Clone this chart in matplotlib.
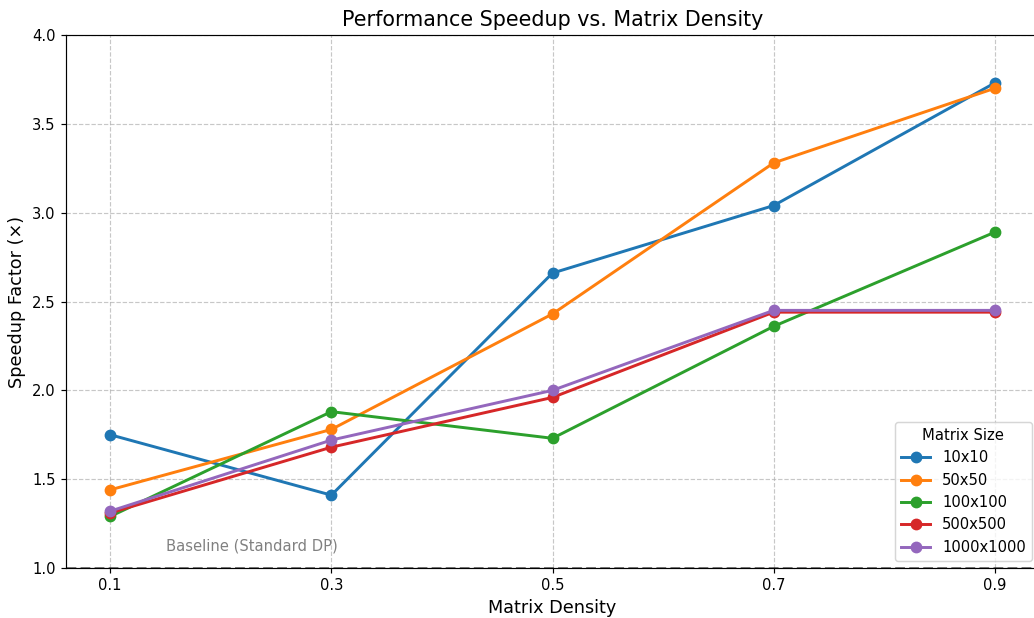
import matplotlib
matplotlib.use("Agg")
import matplotlib.pyplot as plt

densities = [0.1, 0.3, 0.5, 0.7, 0.9]
sizes = ["10x10", "50x50", "100x100", "500x500", "1000x1000"]
speedup_10 = [1.75, 1.41, 2.66, 3.04, 3.73]
speedup_50 = [1.44, 1.78, 2.43, 3.28, 3.70]
speedup_100 = [1.29, 1.88, 1.73, 2.36, 2.89]
speedup_500 = [1.31, 1.68, 1.96, 2.44, 2.44]
speedup_1000 = [1.32, 1.72, 2.00, 2.45, 2.45]
all_speedups = [speedup_10, speedup_50, speedup_100, speedup_500, speedup_1000]

DPI = 106
fig = plt.figure(figsize=(1034 / DPI, 618 / DPI), dpi=DPI)
ax = fig.add_axes([66 / 1034, 1 - 568 / 618, (1039 - 66) / 1034, (568 - 35) / 618])

for name, vals in zip(sizes, all_speedups):
    ax.plot(densities, vals, marker="o", linewidth=2, markersize=7, label=name)

# baseline
ax.axhline(1.0, color="black", linestyle="--", linewidth=1.8, alpha=0.6, zorder=3)
ax.text(0.15, 1.1, "Baseline (Standard DP)", color="gray", fontsize=10)

ax.set_xticks(densities)
ax.set_xlim(0.06, 0.94)
ax.set_ylim(1.0, 4.0)
ax.set_title("Performance Speedup vs. Matrix Density", fontsize=14)
ax.set_xlabel("Matrix Density", fontsize=12)
ax.set_ylabel("Speedup Factor (×)", fontsize=12)
ax.grid(True, linestyle="--", alpha=0.7)
ax.legend(title="Matrix Size", loc="lower right", fontsize=10, title_fontsize=10)

fig.savefig("out.png", dpi=DPI)
